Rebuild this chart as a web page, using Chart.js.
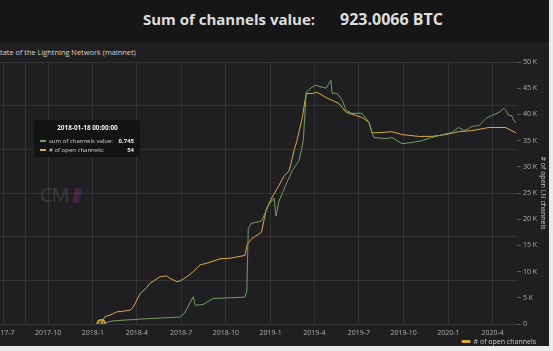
<!DOCTYPE html>
<html><head><meta charset="utf-8">
<script src="https://cdn.jsdelivr.net/npm/chart.js@4.4.1/dist/chart.umd.min.js"></script>
<style>
html,body{margin:0;padding:0;}
body{width:553px;height:351px;background:#ebebeb;position:relative;overflow:hidden;font-family:'Open Sans',sans-serif;}
#header{position:absolute;left:0;top:0;width:549px;height:42px;background:#161616;}
#title{position:absolute;left:143px;top:8px;font-size:15px;font-weight:700;color:#dedede;white-space:nowrap;}
#title .v{margin-left:25px;font-size:16px;}
#panel{position:absolute;left:0;top:42px;width:549px;height:304px;background:#1f1e20;overflow:hidden;}
#ptitle{position:absolute;left:-4px;top:5px;font-size:7.4px;color:#d6d6d6;white-space:nowrap;}
#wrap{position:absolute;left:-40px;top:0;width:589px;height:315px;}
#wm{position:absolute;left:40px;top:139px;font-size:20px;color:rgba(255,255,255,0.14);font-weight:400;letter-spacing:-1px;}
#wm i{display:inline-block;width:7px;height:15px;margin-left:5px;background:linear-gradient(90deg,rgba(200,40,40,0.35),rgba(40,60,200,0.35));vertical-align:-1px;transform:skewX(-12deg);}
#tip{position:absolute;left:34px;top:78px;width:106px;height:37px;background:rgba(18,18,18,0.93);border-radius:3px;display:none;font-size:6px;color:#d2d2d2;box-sizing:border-box;padding:3px 5px 0 6px;}
#tip .tt{text-align:center;font-weight:700;color:#eee;margin-bottom:4px;font-size:6.4px;}
#tip .tr{display:flex;align-items:center;height:9px;}
#tip .sw{display:inline-block;width:6px;height:2px;margin-right:3px;}
#tip .tl{flex:1;}
#tip .tv{font-weight:700;color:#eee;padding-right:1px;}
</style></head>
<body>
<div id="header"><div id="title">Sum of channels value:<span class="v">923.0066 BTC</span></div></div>
<div id="panel">
  <div id="ptitle">State of the Lightning Network (mainnet)</div>
  <div id="wm">CM<i></i></div>
  <div id="wrap"><canvas id="c"></canvas></div>
  <div id="tip"></div>
</div>
<script>
// ---- data ----
const sumDates = ['2018-01-18','2018-02-10','2018-03-15','2018-04-21','2018-05-28','2018-06-29','2018-07-08','2018-07-13','2018-07-20','2018-07-26','2018-07-30','2018-08-15','2018-09-05','2018-10-10','2018-11-09','2018-11-13','2018-11-16','2018-11-22','2018-12-13','2018-12-29','2019-01-08','2019-01-12','2019-01-18','2019-02-02','2019-02-14','2019-02-28','2019-03-05','2019-03-09','2019-03-12','2019-03-15','2019-03-27','2019-04-04','2019-04-10','2019-04-25','2019-05-01','2019-05-05','2019-05-07','2019-05-17','2019-05-28','2019-06-05','2019-06-17','2019-07-08','2019-07-16','2019-07-22','2019-07-28','2019-08-01','2019-08-26','2019-09-07','2019-09-28','2019-10-18','2019-11-08','2019-11-28','2019-12-13','2020-01-08','2020-01-22','2020-02-02','2020-02-12','2020-02-18','2020-03-04','2020-03-18','2020-03-30','2020-04-14','2020-04-24','2020-04-28','2020-05-04','2020-05-10','2020-05-14','2020-05-19'];
const sumValues = [0.745,14,19,24,28,32,50,71,101,125,86,89,117,120,123,148,438,461,471,549,577,494,563,641,701,748,794,840,947,1061,1085,1094,1089,1080,1103,1117,1057,1057,1025,978,965,965,941,923,877,854,849,854,826,831,840,854,863,877,900,886,895,905,909,941,955,969,988,978,955,955,932,923];

const chanDates = ['2018-01-18','2018-01-25','2018-02-12','2018-02-18','2018-03-04','2018-03-18','2018-03-25','2018-04-08','2018-04-21','2018-04-28','2018-05-19','2018-06-01','2018-06-08','2018-06-22','2018-06-29','2018-07-13','2018-07-26','2018-08-09','2018-08-23','2018-09-19','2018-10-10','2018-11-09','2018-11-14','2018-11-24','2018-12-13','2018-12-23','2019-01-02','2019-01-14','2019-01-29','2019-02-08','2019-02-18','2019-02-24','2019-03-07','2019-03-15','2019-03-27','2019-04-06','2019-04-17','2019-04-27','2019-05-07','2019-05-21','2019-06-05','2019-06-25','2019-07-08','2019-07-22','2019-07-28','2019-08-11','2019-09-07','2019-09-28','2019-11-01','2019-11-28','2019-12-27','2020-01-22','2020-02-18','2020-03-24','2020-04-14','2020-04-28','2020-05-10','2020-05-19'];
const chanValues = [54,1350,1980,2300,2440,2630,3270,5830,6920,7750,9040,9170,8710,8080,8210,9040,10000,11290,11600,12440,12560,13080,15200,16350,17500,21900,23850,25800,28300,29200,33100,35000,39400,44000,44000,44200,43650,43100,42700,42100,40400,39800,39400,38500,36500,36500,36700,36150,35800,35800,36150,36700,36900,37500,37500,37500,36900,36500];

const xTickDates = ['2017-07-01','2017-10-01','2018-01-01','2018-04-01','2018-07-01','2018-10-01','2019-01-01','2019-04-01','2019-07-01','2019-10-01','2020-01-01','2020-04-01'];
const annotationDates = ['2017-08-14'];
const xRange = ['2017-06-24','2020-05-21'];
const sumRange = [0, 1200, 200];
const chanRange = [0, 50000, 5000];
const tooltipIndex = 0;

const GREEN = '#70a064', YELLOW = '#dcac3a';
Chart.defaults.font.family = "'Open Sans', sans-serif";
Chart.defaults.font.size = 7;
Chart.defaults.color = '#b8b8b8';

function fmtTick(v){ const d=new Date(v); return d.getUTCFullYear()+'-'+(d.getUTCMonth()+1); }
function pad(n){ return String(n).padStart(2,'0'); }
function fmtFull(v){ const d=new Date(v); return d.getUTCFullYear()+'-'+pad(d.getUTCMonth()+1)+'-'+pad(d.getUTCDate())+' '+pad(d.getUTCHours())+':'+pad(d.getUTCMinutes())+':'+pad(d.getUTCSeconds()); }

const markerPlugin = {
  id:'marker',
  beforeDatasetsDraw(chart){
    const {ctx, chartArea, scales:{x}} = chart;
    ctx.save();
    ctx.strokeStyle = '#6a1b1e'; ctx.lineWidth = 1;
    annotationDates.forEach(d => {
      const px = Math.round(x.getPixelForValue(Date.parse(d))) + 0.5;
      ctx.beginPath(); ctx.moveTo(px, chartArea.top); ctx.lineTo(px, chartArea.bottom); ctx.stroke();
    });
    ctx.restore();
  }
};
// nudge the legend box inward from the panel edge (as in the Grafana panel)
const legendNudge = {
  id:'legendNudge',
  afterLayout(chart){ const l = chart.legend; if(!l) return; l.left -= 11; l.right -= 11; l.top -= 2; l.bottom -= 2; }
};

const chart = new Chart(document.getElementById('c'), {
  type:'line',
  data:{
    datasets:[
      {label:'sum of channels value', data: sumDates.map((d,i)=>({x:Date.parse(d), y:sumValues[i]})), borderColor:GREEN, backgroundColor:GREEN, borderWidth:1, pointRadius:0, pointHoverRadius:0, yAxisID:'ySum', tension:0},
      {label:'# of open channels', data: chanDates.map((d,i)=>({x:Date.parse(d), y:chanValues[i]})), borderColor:YELLOW, backgroundColor:YELLOW, borderWidth:1, pointRadius:0, pointHoverRadius:4, pointHoverBorderWidth:1.5, pointHoverBackgroundColor:'rgba(220,172,58,0.45)', pointHoverBorderColor:YELLOW, yAxisID:'yChan', tension:0}
    ]
  },
  options:{
    responsive:true, maintainAspectRatio:false, animation:false, events:[],
    layout:{padding:{left:40, top:20, right:0, bottom:0}},
    scales:{
      x:{type:'linear', min:Date.parse(xRange[0]), max:Date.parse(xRange[1]),
         afterBuildTicks(s){ s.ticks = xTickDates.map(d=>({value:Date.parse(d)})); },
         ticks:{callback:v=>fmtTick(v), maxRotation:0, autoSkip:false, padding:5, color:'#b0b0b0'},
         grid:{color:'rgba(255,255,255,0.09)', drawTicks:false}, border:{display:false},
         afterFit(s){ s.height = 14; }},
      ySum:{position:'left', min:sumRange[0], max:sumRange[1], ticks:{stepSize:sumRange[2], display:false},
         grid:{color:'rgba(255,255,255,0.09)', drawTicks:false}, border:{display:false},
         afterFit(s){ s.width = 0; }},
      yChan:{position:'right', min:chanRange[0], max:chanRange[1],
         ticks:{stepSize:chanRange[2], callback:v=> v===0 ? '0' : (v/1000)+' K', padding:2, color:'#b0b0b0'},
         grid:{drawOnChartArea:false, drawTicks:true, tickLength:4, color:'rgba(255,255,255,0.25)'}, border:{display:false},
         title:{display:true, text:'# of open LN channels', color:'#c4c4c4', font:{size:7}, padding:{top:2,bottom:3}},
         afterFit(s){ s.width = 32; }}
    },
    plugins:{
      legend:{position:'bottom', align:'end', labels:{filter:item=>item.datasetIndex===1, boxWidth:8, boxHeight:2, padding:2, color:'#c8c8c8', font:{size:7}}},
      tooltip:{enabled:false, mode:'index', intersect:false,
        callbacks:{title:items=>fmtFull(items[0].raw.x)},
        external:({tooltip})=>{
          const el = document.getElementById('tip');
          if(!tooltip || tooltip.opacity===0){ el.style.display='none'; return; }
          let html = '<div class="tt">'+tooltip.title[0]+'</div>';
          tooltip.dataPoints.forEach(p=>{
            html += '<div class="tr"><span class="sw" style="background:'+p.dataset.borderColor+'"></span><span class="tl">'+p.dataset.label+':</span><span class="tv">'+p.raw.y+'</span></div>';
          });
          el.innerHTML = html; el.style.display='block';
        }}
    }
  },
  plugins:[markerPlugin, legendNudge]
});
const act = [{datasetIndex:0,index:tooltipIndex},{datasetIndex:1,index:tooltipIndex}];
chart.setActiveElements(act);
chart.tooltip.setActiveElements(act,{x:0,y:0});
chart.update();
</script>
</body></html>
